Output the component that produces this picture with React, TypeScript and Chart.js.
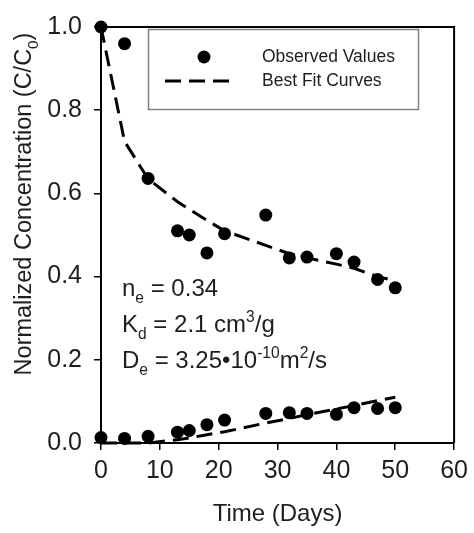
import React, { useEffect, useRef } from "react";
import { Chart, registerables } from "chart.js";

Chart.register(...registerables);

// ---- Data ----
const days = [0, 4, 8, 13, 15, 18, 21, 28, 32, 35, 40, 43, 47, 50];
const upperObserved = [1.0, 0.96, 0.636, 0.51, 0.5, 0.457, 0.503, 0.548, 0.445, 0.447, 0.455, 0.435, 0.393, 0.373];
const upperFit = [1.0, 0.725, 0.635, 0.58, 0.562, 0.535, 0.51, 0.475, 0.455, 0.445, 0.43, 0.42, 0.4, 0.39];
const lowerObserved = [0.013, 0.011, 0.016, 0.026, 0.03, 0.044, 0.055, 0.071, 0.073, 0.071, 0.069, 0.085, 0.083, 0.085];
const lowerFit = [0, 0, 0, 0.008, 0.012, 0.02, 0.027, 0.048, 0.059, 0.068, 0.082, 0.09, 0.102, 0.11];

const xTicksMin = 0;
const xTicksMax = 60;
const xTickStep = 10;
const yTicksMin = 0;
const yTicksMax = 1;
const yTickStep = 0.2;

const legendLabels = ["Observed Values", "Best Fit Curves"];
const xTitle = "Time (Days)";
const yTitleParts = [
  { t: "Normalized Concentration (C/C" },
  { t: "0", sub: true },
  { t: ")" },
];
const paramLines = [
  [{ t: "n" }, { t: "e", sub: true }, { t: " = 0.34" }],
  [{ t: "K" }, { t: "d", sub: true }, { t: " = 2.1 cm" }, { t: "3", sup: true }, { t: "/g" }],
  [{ t: "D" }, { t: "e", sub: true }, { t: " = 3.25\u202210" }, { t: "-10", sup: true }, { t: "m" }, { t: "2", sup: true }, { t: "/s" }],
];

const FONT = "'Liberation Sans', Arial, Helvetica, sans-serif";
const TEXT = "#1e1e1e";
const DASH = [16, 8];

type Part = { t: string; sub?: boolean; sup?: boolean };

function drawRich(ctx: CanvasRenderingContext2D, parts: Part[], x: number, y: number, size: number) {
  let cx = x;
  for (const p of parts) {
    const s = p.sub || p.sup ? size * 0.65 : size;
    ctx.font = `${s}px ${FONT}`;
    const dy = p.sub ? size * 0.28 : p.sup ? -size * 0.42 : 0;
    ctx.fillText(p.t, cx, y + dy);
    cx += ctx.measureText(p.t).width;
  }
  return cx - x;
}

function measureRich(ctx: CanvasRenderingContext2D, parts: Part[], size: number) {
  let w = 0;
  for (const p of parts) {
    const s = p.sub || p.sup ? size * 0.65 : size;
    ctx.font = `${s}px ${FONT}`;
    w += ctx.measureText(p.t).width;
  }
  return w;
}

const decorPlugin = {
  id: "decor",
  afterDatasetsDraw(chart: any) {
    const { ctx, chartArea } = chart;
    ctx.save();
    // frame top & right
    ctx.strokeStyle = "#000";
    ctx.lineWidth = 2;
    ctx.beginPath();
    ctx.moveTo(chartArea.left, chartArea.top);
    ctx.lineTo(chartArea.right, chartArea.top);
    ctx.lineTo(chartArea.right, chartArea.bottom);
    ctx.stroke();

    // legend box
    ctx.strokeStyle = "#808080";
    ctx.lineWidth = 1.5;
    ctx.strokeRect(148.5, 29.5, 270, 80);
    ctx.fillStyle = "#000";
    ctx.beginPath();
    ctx.arc(204, 57, 6.5, 0, Math.PI * 2);
    ctx.fill();
    ctx.strokeStyle = "#000";
    ctx.lineWidth = 3;
    ctx.setLineDash(DASH);
    ctx.beginPath();
    ctx.moveTo(165, 81);
    ctx.lineTo(236, 81);
    ctx.stroke();
    ctx.setLineDash([]);
    ctx.fillStyle = TEXT;
    ctx.font = `17.5px ${FONT}`;
    ctx.textBaseline = "middle";
    ctx.textAlign = "left";
    ctx.fillText(legendLabels[0], 262, 57);
    ctx.fillText(legendLabels[1], 262, 81);

    // parameter annotations
    ctx.textBaseline = "alphabetic";
    const baseY = [296, 332, 368];
    paramLines.forEach((line, i) => drawRich(ctx, line as Part[], 122, baseY[i], 24));

    // y-axis title (rotated, with subscript)
    const w = measureRich(ctx, yTitleParts as Part[], 23.5);
    ctx.translate(31, 204);
    ctx.rotate(-Math.PI / 2);
    drawRich(ctx, yTitleParts as Part[], -w / 2, 0, 23.5);
    ctx.restore();
  },
};

export default function App() {
  const ref = useRef<HTMLCanvasElement | null>(null);
  useEffect(() => {
    if (!ref.current) return;
    const pts = (ys: number[]) => days.map((d, i) => ({ x: d, y: ys[i] }));
    const chart = new Chart(ref.current, {
      type: "scatter",
      data: {
        datasets: [
          {
            label: legendLabels[1],
            data: pts(upperFit),
            showLine: true,
            borderColor: "#000",
            borderWidth: 3,
            borderDash: DASH,
            pointRadius: 0,
            fill: false,
            clip: false,
          } as any,
          {
            label: legendLabels[1],
            data: pts(lowerFit),
            showLine: true,
            borderColor: "#000",
            borderWidth: 3,
            borderDash: DASH,
            pointRadius: 0,
            fill: false,
            clip: false,
          } as any,
          {
            label: legendLabels[0],
            data: pts(upperObserved),
            backgroundColor: "#000",
            borderWidth: 0,
            pointRadius: 6.5,
            clip: false,
          } as any,
          {
            label: legendLabels[0],
            data: pts(lowerObserved),
            backgroundColor: "#000",
            borderWidth: 0,
            pointRadius: 6.5,
            clip: false,
          } as any,
        ],
      },
      options: {
        animation: false,
        responsive: false,
        layout: { padding: { top: 15, right: 17, left: 0, bottom: 0 } },
        plugins: { legend: { display: false }, tooltip: { enabled: false } },
        scales: {
          x: {
            type: "linear",
            min: xTicksMin,
            max: xTicksMax,
            ticks: { stepSize: xTickStep, color: TEXT, font: { size: 25, family: FONT }, padding: 6 },
            grid: { drawOnChartArea: false, drawTicks: true, tickLength: 7, color: "#000", lineWidth: 1.5 },
            border: { display: true, color: "#000", width: 2 },
            title: { display: true, text: xTitle, color: TEXT, font: { size: 24, family: FONT }, padding: { top: 3 } },
            afterFit: (s: any) => { s.height = 90; },
          },
          y: {
            type: "linear",
            min: yTicksMin,
            max: yTicksMax,
            ticks: {
              stepSize: yTickStep,
              color: TEXT,
              font: { size: 25, family: FONT },
              padding: 12,
              callback: (v: any) => Number(v).toFixed(1),
            },
            grid: { drawOnChartArea: false, drawTicks: true, tickLength: 7, color: "#000", lineWidth: 1.5 },
            border: { display: true, color: "#000", width: 2 },
            afterFit: (s: any) => { s.width = 101; },
          },
        },
      },
      plugins: [decorPlugin],
    });
    return () => chart.destroy();
  }, []);
  return (
    <div style={{ position: "absolute", left: 0, top: 0, width: 474, height: 533, background: "#fff" }}>
      <canvas ref={ref} width={474} height={533} />
    </div>
  );
}
